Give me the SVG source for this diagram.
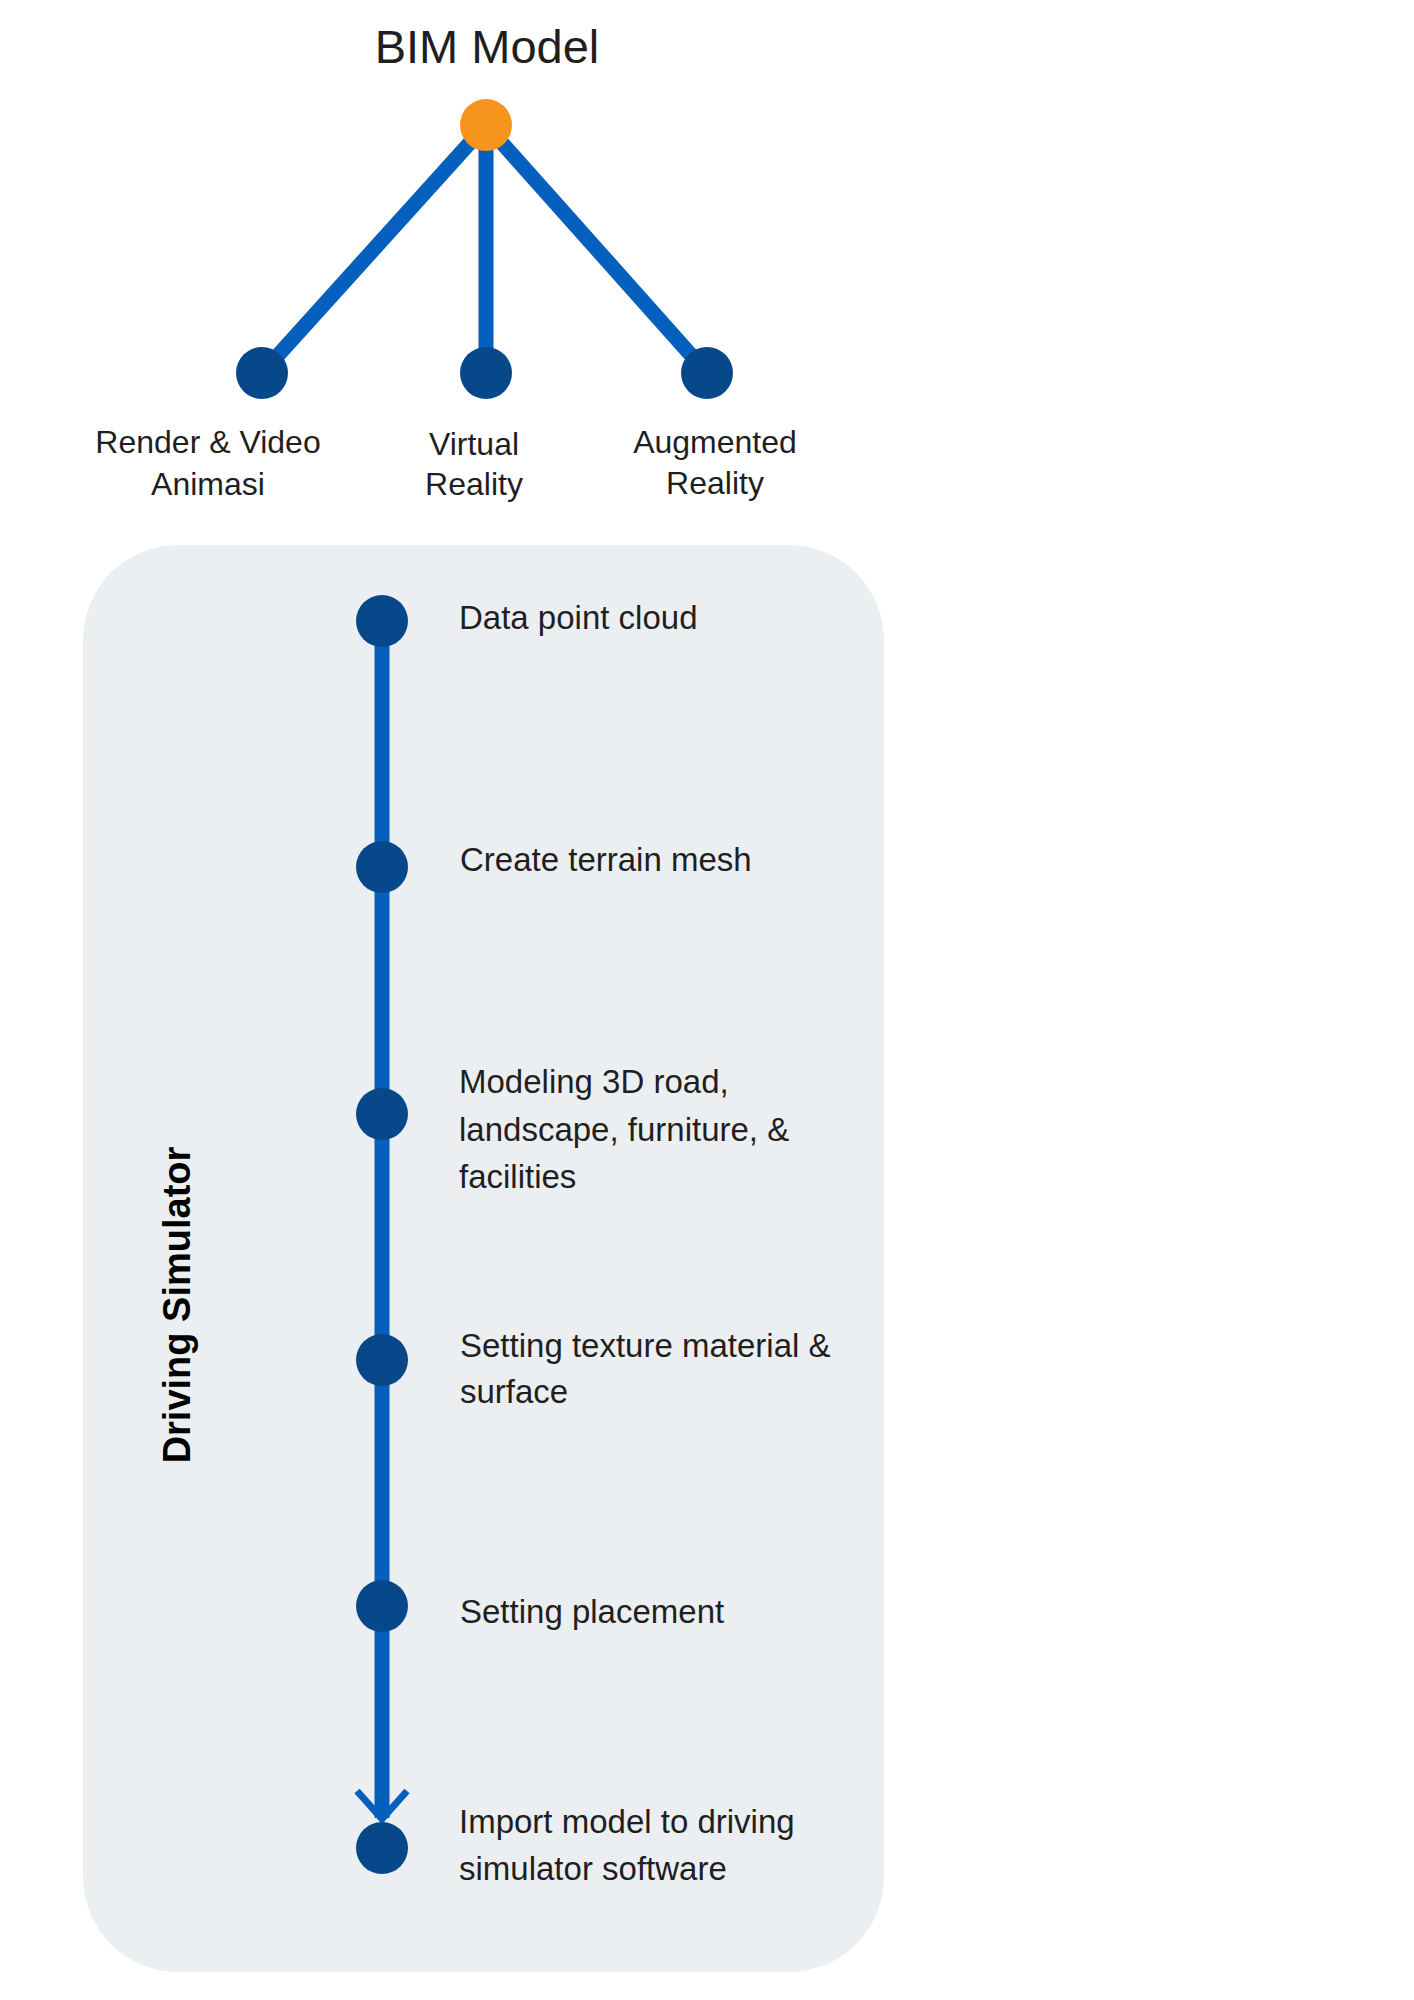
<svg xmlns="http://www.w3.org/2000/svg" width="1414" height="2000" viewBox="0 0 1414 2000">
<style>
.t{font-family:"Liberation Sans","DejaVu Sans",sans-serif;font-size:32px;fill:#1f1f1f}
.s{font-size:33px}
.c{text-anchor:middle}
.link{stroke:#055fbd;stroke-width:15;fill:none}
.dot{fill:#07488a}
</style>
<rect width="1414" height="2000" fill="#ffffff"/>
<rect id="panel" x="83" y="545" width="801" height="1427" rx="95" ry="95" fill="#eceff2"/>
<g id="connectors">
<line class="link" x1="486" y1="125" x2="262" y2="373"/>
<line class="link" x1="486" y1="125" x2="486" y2="373"/>
<line class="link" x1="486" y1="125" x2="707" y2="373"/>
<line class="link" x1="382" y1="621" x2="382" y2="1818"/>
<polyline points="357,1791 382,1819 407,1791" fill="none" stroke="#055fbd" stroke-width="7"/>
</g>
<g id="bim"><circle cx="486" cy="125" r="26" fill="#f7941d"/>
<text class="t c" x="487" y="63" style="font-size:47px">BIM Model</text></g>
<g id="render"><circle class="dot" cx="262" cy="373" r="26"/>
<text class="t c" x="208" y="453">Render &amp; Video</text><text class="t c" x="208" y="495">Animasi</text></g>
<g id="vr"><circle class="dot" cx="486" cy="373" r="26"/>
<text class="t c" x="474" y="455">Virtual</text><text class="t c" x="474" y="495">Reality</text></g>
<g id="ar"><circle class="dot" cx="707" cy="373" r="26"/>
<text class="t c" x="715" y="453">Augmented</text><text class="t c" x="715" y="494">Reality</text></g>
<g id="title"><text class="t c" transform="translate(190,1305) rotate(-90)" style="font-size:38px;font-weight:bold;fill:#000">Driving Simulator</text></g>
<g id="s1"><circle class="dot" cx="382" cy="621" r="26"/><text class="t s" x="459" y="629">Data point cloud</text></g>
<g id="s2"><circle class="dot" cx="382" cy="867" r="26"/><text class="t s" x="460" y="871">Create terrain mesh</text></g>
<g id="s3"><circle class="dot" cx="382" cy="1114" r="26"/><text class="t s" x="459" y="1093">Modeling 3D road,</text><text class="t s" x="459" y="1141">landscape, furniture, &amp;</text><text class="t s" x="459" y="1188">facilities</text></g>
<g id="s4"><circle class="dot" cx="382" cy="1360" r="26"/><text class="t s" x="460" y="1357">Setting texture material &amp;</text><text class="t s" x="460" y="1403">surface</text></g>
<g id="s5"><circle class="dot" cx="382" cy="1606" r="26"/><text class="t s" x="460" y="1623">Setting placement</text></g>
<g id="s6"><circle class="dot" cx="382" cy="1848" r="26"/><text class="t s" x="459" y="1833">Import model to driving</text><text class="t s" x="459" y="1880">simulator software</text></g>
</svg>
